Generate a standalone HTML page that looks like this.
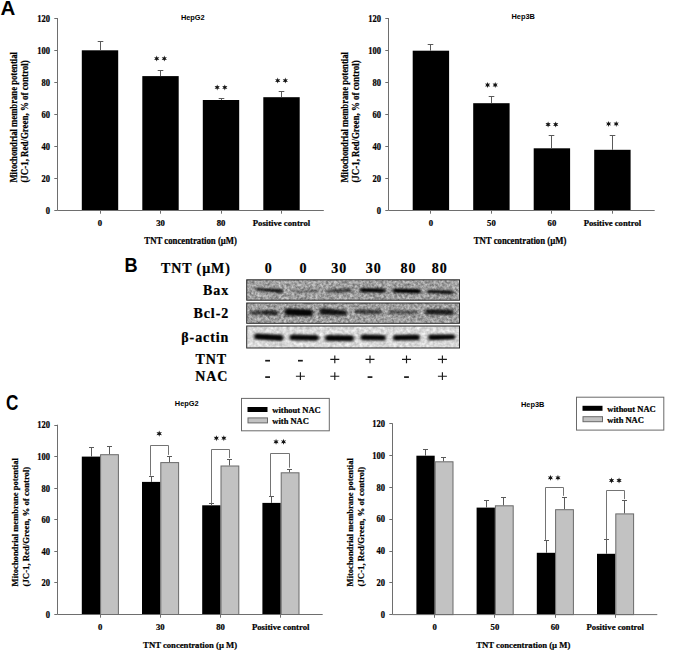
<!DOCTYPE html><html><head><meta charset="utf-8"><style>html,body{margin:0;padding:0;background:#fff;overflow:hidden;width:675px;height:653px;}svg{display:block}</style></head><body>
<svg width="675" height="653" viewBox="0 0 675 653">
<defs>
<filter id="noiseA" x="0" y="0" width="100%" height="100%" color-interpolation-filters="sRGB">
<feTurbulence type="fractalNoise" baseFrequency="0.38" numOctaves="2" seed="7" result="t"/>
<feColorMatrix in="t" type="matrix" values="0.6 0 0 0 0.33  0.6 0 0 0 0.33  0.6 0 0 0 0.33  0 0 0 0 1" result="n"/>
<feGaussianBlur in="n" stdDeviation="0.5" result="nb"/>
<feComposite in="nb" in2="SourceGraphic" operator="in"/>
</filter>
<filter id="noiseB" x="0" y="0" width="100%" height="100%" color-interpolation-filters="sRGB">
<feTurbulence type="fractalNoise" baseFrequency="0.3" numOctaves="2" seed="11" result="t"/>
<feColorMatrix in="t" type="matrix" values="0.35 0 0 0 0.68  0.35 0 0 0 0.68  0.35 0 0 0 0.68  0 0 0 0 1" result="n"/>
<feGaussianBlur in="n" stdDeviation="0.6" result="nb"/>
<feComposite in="nb" in2="SourceGraphic" operator="in"/>
</filter>
<filter id="blur1" x="-10%" y="-50%" width="120%" height="200%"><feGaussianBlur stdDeviation="1.4 1.3"/></filter>
</defs>
<rect width="675" height="653" fill="#fff"/>
<text x="0.50" y="15.30" font-size="20.5" text-anchor="start" font-family="Liberation Sans, sans-serif" font-weight="bold" >A</text>
<text transform="translate(124.40 272.20) scale(0.9 1)" font-size="20.2" text-anchor="start" font-family="Liberation Sans, sans-serif" font-weight="bold" >B</text>
<text transform="translate(6.00 409.60) scale(0.8 1)" font-size="21.5" text-anchor="start" font-family="Liberation Sans, sans-serif" font-weight="bold" >C</text>
<rect x="81.80" y="50.30" width="36.4" height="160.20" fill="#000"/><path d="M100.50 50.30V41.50M97.70 41.50H103.30" stroke="#5a5a5a" stroke-width="1" fill="none"/><rect x="142.30" y="76.10" width="36.4" height="134.40" fill="#000"/><path d="M160.50 76.10V70.50M157.70 70.50H163.30" stroke="#5a5a5a" stroke-width="1" fill="none"/><polygon points="156.70,55.60 157.36,57.46 159.30,57.10 158.02,58.60 159.30,60.10 157.36,59.74 156.70,61.60 156.04,59.74 154.10,60.10 155.38,58.60 154.10,57.10 156.04,57.46" fill="#141414"/><polygon points="164.30,55.60 164.96,57.46 166.90,57.10 165.62,58.60 166.90,60.10 164.96,59.74 164.30,61.60 163.64,59.74 161.70,60.10 162.98,58.60 161.70,57.10 163.64,57.46" fill="#141414"/><rect x="202.80" y="100.00" width="36.4" height="110.50" fill="#000"/><path d="M221.50 100.00V98.50M218.70 98.50H224.30" stroke="#5a5a5a" stroke-width="1" fill="none"/><polygon points="217.20,84.40 217.86,86.26 219.80,85.90 218.52,87.40 219.80,88.90 217.86,88.54 217.20,90.40 216.54,88.54 214.60,88.90 215.88,87.40 214.60,85.90 216.54,86.26" fill="#141414"/><polygon points="224.80,84.40 225.46,86.26 227.40,85.90 226.12,87.40 227.40,88.90 225.46,88.54 224.80,90.40 224.14,88.54 222.20,88.90 223.48,87.40 222.20,85.90 224.14,86.26" fill="#141414"/><rect x="263.30" y="97.20" width="36.4" height="113.30" fill="#000"/><path d="M281.50 97.20V91.50M278.70 91.50H284.30" stroke="#5a5a5a" stroke-width="1" fill="none"/><polygon points="277.70,77.60 278.36,79.46 280.30,79.10 279.02,80.60 280.30,82.10 278.36,81.74 277.70,83.60 277.04,81.74 275.10,82.10 276.38,80.60 275.10,79.10 277.04,79.46" fill="#141414"/><polygon points="285.30,77.60 285.96,79.46 287.90,79.10 286.62,80.60 287.90,82.10 285.96,81.74 285.30,83.60 284.64,81.74 282.70,82.10 283.98,80.60 282.70,79.10 284.64,79.46" fill="#141414"/><path d="M57.50 18.00V210.50H323.80" stroke="#6e6e6e" stroke-width="1" fill="none"/><path d="M54.30 210.50H57.50" stroke="#6e6e6e" stroke-width="1"/><text transform="translate(50.10 213.70) scale(0.92 1)" font-size="9.3" text-anchor="end" font-family="Liberation Serif, serif" font-weight="bold" stroke="#000" stroke-width="0.22" >0</text><path d="M54.30 178.50H57.50" stroke="#6e6e6e" stroke-width="1"/><text transform="translate(50.10 181.70) scale(0.92 1)" font-size="9.3" text-anchor="end" font-family="Liberation Serif, serif" font-weight="bold" stroke="#000" stroke-width="0.22" >20</text><path d="M54.30 146.50H57.50" stroke="#6e6e6e" stroke-width="1"/><text transform="translate(50.10 149.70) scale(0.92 1)" font-size="9.3" text-anchor="end" font-family="Liberation Serif, serif" font-weight="bold" stroke="#000" stroke-width="0.22" >40</text><path d="M54.30 114.50H57.50" stroke="#6e6e6e" stroke-width="1"/><text transform="translate(50.10 117.70) scale(0.92 1)" font-size="9.3" text-anchor="end" font-family="Liberation Serif, serif" font-weight="bold" stroke="#000" stroke-width="0.22" >60</text><path d="M54.30 82.50H57.50" stroke="#6e6e6e" stroke-width="1"/><text transform="translate(50.10 85.70) scale(0.92 1)" font-size="9.3" text-anchor="end" font-family="Liberation Serif, serif" font-weight="bold" stroke="#000" stroke-width="0.22" >80</text><path d="M54.30 50.50H57.50" stroke="#6e6e6e" stroke-width="1"/><text transform="translate(50.10 53.70) scale(0.92 1)" font-size="9.3" text-anchor="end" font-family="Liberation Serif, serif" font-weight="bold" stroke="#000" stroke-width="0.22" >100</text><path d="M54.30 18.50H57.50" stroke="#6e6e6e" stroke-width="1"/><text transform="translate(50.10 21.70) scale(0.92 1)" font-size="9.3" text-anchor="end" font-family="Liberation Serif, serif" font-weight="bold" stroke="#000" stroke-width="0.22" >120</text><path d="M100.50 210.50V213.70" stroke="#6e6e6e" stroke-width="1"/><text x="100.00" y="225.60" font-size="8.7" text-anchor="middle" font-family="Liberation Serif, serif" font-weight="bold" stroke="#000" stroke-width="0.22" >0</text><path d="M160.50 210.50V213.70" stroke="#6e6e6e" stroke-width="1"/><text x="160.50" y="225.60" font-size="8.7" text-anchor="middle" font-family="Liberation Serif, serif" font-weight="bold" stroke="#000" stroke-width="0.22" >30</text><path d="M221.50 210.50V213.70" stroke="#6e6e6e" stroke-width="1"/><text x="221.00" y="225.60" font-size="8.7" text-anchor="middle" font-family="Liberation Serif, serif" font-weight="bold" stroke="#000" stroke-width="0.22" >80</text><path d="M281.50 210.50V213.70" stroke="#6e6e6e" stroke-width="1"/><text x="281.50" y="225.60" font-size="8.7" text-anchor="middle" font-family="Liberation Serif, serif" font-weight="bold" stroke="#000" stroke-width="0.22" >Positive control</text><text transform="translate(190.65 243.60) scale(0.94 1)" font-size="9.3" text-anchor="middle" font-family="Liberation Serif, serif" font-weight="bold" stroke="#000" stroke-width="0.22" >TNT concentration (&#181;M)</text><text transform="translate(17.30,182.60) rotate(-90) scale(0.905 1)" font-size="9.6" font-family="Liberation Serif, serif" font-weight="bold" stroke="#000" stroke-width="0.22">Mitochondrial membrane potential</text><text transform="translate(28.40,182.60) rotate(-90) scale(0.928 1)" font-size="9.6" font-family="Liberation Serif, serif" font-weight="bold" stroke="#000" stroke-width="0.22">(JC-1, Red/Green, % of control)</text><text transform="translate(180.90 19.60) scale(0.925 1)" font-size="8.0" text-anchor="start" font-family="Liberation Sans, sans-serif" font-weight="bold" >HepG2</text>
<rect x="412.70" y="50.70" width="36.4" height="159.80" fill="#000"/><path d="M430.50 50.70V44.50M427.70 44.50H433.30" stroke="#5a5a5a" stroke-width="1" fill="none"/><rect x="473.20" y="103.20" width="36.4" height="107.30" fill="#000"/><path d="M491.50 103.20V96.50M488.70 96.50H494.30" stroke="#5a5a5a" stroke-width="1" fill="none"/><polygon points="487.60,82.00 488.26,83.86 490.20,83.50 488.92,85.00 490.20,86.50 488.26,86.14 487.60,88.00 486.94,86.14 485.00,86.50 486.28,85.00 485.00,83.50 486.94,83.86" fill="#141414"/><polygon points="495.20,82.00 495.86,83.86 497.80,83.50 496.52,85.00 497.80,86.50 495.86,86.14 495.20,88.00 494.54,86.14 492.60,86.50 493.88,85.00 492.60,83.50 494.54,83.86" fill="#141414"/><rect x="533.70" y="148.30" width="36.4" height="62.20" fill="#000"/><path d="M551.50 148.30V135.50M548.70 135.50H554.30" stroke="#5a5a5a" stroke-width="1" fill="none"/><polygon points="548.10,121.50 548.76,123.36 550.70,123.00 549.42,124.50 550.70,126.00 548.76,125.64 548.10,127.50 547.44,125.64 545.50,126.00 546.78,124.50 545.50,123.00 547.44,123.36" fill="#141414"/><polygon points="555.70,121.50 556.36,123.36 558.30,123.00 557.02,124.50 558.30,126.00 556.36,125.64 555.70,127.50 555.04,125.64 553.10,126.00 554.38,124.50 553.10,123.00 555.04,123.36" fill="#141414"/><rect x="594.20" y="149.80" width="36.4" height="60.70" fill="#000"/><path d="M612.50 149.80V135.50M609.70 135.50H615.30" stroke="#5a5a5a" stroke-width="1" fill="none"/><polygon points="608.60,120.90 609.26,122.76 611.20,122.40 609.92,123.90 611.20,125.40 609.26,125.04 608.60,126.90 607.94,125.04 606.00,125.40 607.28,123.90 606.00,122.40 607.94,122.76" fill="#141414"/><polygon points="616.20,120.90 616.86,122.76 618.80,122.40 617.52,123.90 618.80,125.40 616.86,125.04 616.20,126.90 615.54,125.04 613.60,125.40 614.88,123.90 613.60,122.40 615.54,122.76" fill="#141414"/><path d="M388.50 18.00V210.50H654.70" stroke="#6e6e6e" stroke-width="1" fill="none"/><path d="M385.30 210.50H388.50" stroke="#6e6e6e" stroke-width="1"/><text transform="translate(381.10 213.70) scale(0.92 1)" font-size="9.3" text-anchor="end" font-family="Liberation Serif, serif" font-weight="bold" stroke="#000" stroke-width="0.22" >0</text><path d="M385.30 178.50H388.50" stroke="#6e6e6e" stroke-width="1"/><text transform="translate(381.10 181.70) scale(0.92 1)" font-size="9.3" text-anchor="end" font-family="Liberation Serif, serif" font-weight="bold" stroke="#000" stroke-width="0.22" >20</text><path d="M385.30 146.50H388.50" stroke="#6e6e6e" stroke-width="1"/><text transform="translate(381.10 149.70) scale(0.92 1)" font-size="9.3" text-anchor="end" font-family="Liberation Serif, serif" font-weight="bold" stroke="#000" stroke-width="0.22" >40</text><path d="M385.30 114.50H388.50" stroke="#6e6e6e" stroke-width="1"/><text transform="translate(381.10 117.70) scale(0.92 1)" font-size="9.3" text-anchor="end" font-family="Liberation Serif, serif" font-weight="bold" stroke="#000" stroke-width="0.22" >60</text><path d="M385.30 82.50H388.50" stroke="#6e6e6e" stroke-width="1"/><text transform="translate(381.10 85.70) scale(0.92 1)" font-size="9.3" text-anchor="end" font-family="Liberation Serif, serif" font-weight="bold" stroke="#000" stroke-width="0.22" >80</text><path d="M385.30 50.50H388.50" stroke="#6e6e6e" stroke-width="1"/><text transform="translate(381.10 53.70) scale(0.92 1)" font-size="9.3" text-anchor="end" font-family="Liberation Serif, serif" font-weight="bold" stroke="#000" stroke-width="0.22" >100</text><path d="M385.30 18.50H388.50" stroke="#6e6e6e" stroke-width="1"/><text transform="translate(381.10 21.70) scale(0.92 1)" font-size="9.3" text-anchor="end" font-family="Liberation Serif, serif" font-weight="bold" stroke="#000" stroke-width="0.22" >120</text><path d="M430.50 210.50V213.70" stroke="#6e6e6e" stroke-width="1"/><text x="430.90" y="225.60" font-size="8.7" text-anchor="middle" font-family="Liberation Serif, serif" font-weight="bold" stroke="#000" stroke-width="0.22" >0</text><path d="M491.50 210.50V213.70" stroke="#6e6e6e" stroke-width="1"/><text x="491.40" y="225.60" font-size="8.7" text-anchor="middle" font-family="Liberation Serif, serif" font-weight="bold" stroke="#000" stroke-width="0.22" >50</text><path d="M551.50 210.50V213.70" stroke="#6e6e6e" stroke-width="1"/><text x="551.90" y="225.60" font-size="8.7" text-anchor="middle" font-family="Liberation Serif, serif" font-weight="bold" stroke="#000" stroke-width="0.22" >60</text><path d="M612.50 210.50V213.70" stroke="#6e6e6e" stroke-width="1"/><text x="612.40" y="225.60" font-size="8.7" text-anchor="middle" font-family="Liberation Serif, serif" font-weight="bold" stroke="#000" stroke-width="0.22" >Positive control</text><text transform="translate(520.00 243.60) scale(0.94 1)" font-size="9.3" text-anchor="middle" font-family="Liberation Serif, serif" font-weight="bold" stroke="#000" stroke-width="0.22" >TNT concentration (&#181;M)</text><text transform="translate(348.20,182.60) rotate(-90) scale(0.905 1)" font-size="9.6" font-family="Liberation Serif, serif" font-weight="bold" stroke="#000" stroke-width="0.22">Mitochondrial membrane potential</text><text transform="translate(359.30,182.60) rotate(-90) scale(0.928 1)" font-size="9.6" font-family="Liberation Serif, serif" font-weight="bold" stroke="#000" stroke-width="0.22">(JC-1, Red/Green, % of control)</text><text transform="translate(511.50 19.00) scale(0.925 1)" font-size="8.0" text-anchor="start" font-family="Liberation Sans, sans-serif" font-weight="bold" >Hep3B</text>
<text x="230.80" y="273.20" font-size="14.0" text-anchor="end" font-family="Liberation Serif, serif" font-weight="bold" stroke="#000" stroke-width="0.22" letter-spacing="0.9" >TNT (&#181;M)</text>
<text x="268.75" y="273.10" font-size="14.0" text-anchor="middle" font-family="Liberation Serif, serif" font-weight="bold" stroke="#000" stroke-width="0.22" letter-spacing="0.9" >0</text>
<text x="303.45" y="273.10" font-size="14.0" text-anchor="middle" font-family="Liberation Serif, serif" font-weight="bold" stroke="#000" stroke-width="0.22" letter-spacing="0.9" >0</text>
<text x="339.25" y="273.10" font-size="14.0" text-anchor="middle" font-family="Liberation Serif, serif" font-weight="bold" stroke="#000" stroke-width="0.22" letter-spacing="0.9" >30</text>
<text x="373.65" y="273.10" font-size="14.0" text-anchor="middle" font-family="Liberation Serif, serif" font-weight="bold" stroke="#000" stroke-width="0.22" letter-spacing="0.9" >30</text>
<text x="408.45" y="273.10" font-size="14.0" text-anchor="middle" font-family="Liberation Serif, serif" font-weight="bold" stroke="#000" stroke-width="0.22" letter-spacing="0.9" >80</text>
<text x="439.75" y="273.10" font-size="14.0" text-anchor="middle" font-family="Liberation Serif, serif" font-weight="bold" stroke="#000" stroke-width="0.22" letter-spacing="0.9" >80</text>
<text x="229.10" y="294.50" font-size="14.0" text-anchor="end" font-family="Liberation Serif, serif" font-weight="bold" stroke="#000" stroke-width="0.22" letter-spacing="0.9" >Bax</text>
<text x="229.10" y="318.00" font-size="14.0" text-anchor="end" font-family="Liberation Serif, serif" font-weight="bold" stroke="#000" stroke-width="0.22" letter-spacing="0.9" >Bcl-2</text>
<text x="229.20" y="341.80" font-size="14.0" text-anchor="end" font-family="Liberation Serif, serif" font-weight="bold" stroke="#000" stroke-width="0.22" letter-spacing="0.9" >&#946;-actin</text>
<text x="226.90" y="363.80" font-size="14.0" text-anchor="end" font-family="Liberation Serif, serif" font-weight="bold" stroke="#000" stroke-width="0.22" letter-spacing="0.9" >TNT</text>
<text x="228.20" y="380.60" font-size="14.0" text-anchor="end" font-family="Liberation Serif, serif" font-weight="bold" stroke="#000" stroke-width="0.22" letter-spacing="0.9" >NAC</text>
<rect x="265.20" y="359.85" width="4.8" height="1.7" fill="#1a1a1a"/>
<rect x="265.20" y="376.25" width="4.8" height="1.7" fill="#1a1a1a"/>
<rect x="298.00" y="359.85" width="4.8" height="1.7" fill="#1a1a1a"/>
<path d="M295.90 376.20H304.90M300.40 372.30V380.10" stroke="#1a1a1a" stroke-width="1.15" fill="none"/>
<path d="M330.30 359.30H339.30M334.80 355.40V363.20" stroke="#1a1a1a" stroke-width="1.15" fill="none"/>
<path d="M330.30 376.20H339.30M334.80 372.30V380.10" stroke="#1a1a1a" stroke-width="1.15" fill="none"/>
<path d="M365.50 359.30H374.50M370.00 355.40V363.20" stroke="#1a1a1a" stroke-width="1.15" fill="none"/>
<rect x="367.60" y="376.25" width="4.8" height="1.7" fill="#1a1a1a"/>
<path d="M402.00 359.30H411.00M406.50 355.40V363.20" stroke="#1a1a1a" stroke-width="1.15" fill="none"/>
<rect x="404.10" y="376.25" width="4.8" height="1.7" fill="#1a1a1a"/>
<path d="M437.90 359.30H446.90M442.40 355.40V363.20" stroke="#1a1a1a" stroke-width="1.15" fill="none"/>
<path d="M437.90 376.20H446.90M442.40 372.30V380.10" stroke="#1a1a1a" stroke-width="1.15" fill="none"/>
<rect x="246.7" y="279.80" width="212.8" height="20.40" fill="#000" filter="url(#noiseA)"/>
<g filter="url(#blur1)">
<path d="M255.00 289.20Q255.00 287.90 258.00 287.90L280.00 289.00Q283.00 289.00 283.00 291.00Q283.00 293.00 280.00 293.00L258.00 290.50Q255.00 290.50 255.00 289.20Z" fill="#000" opacity="0.88"/>
<path d="M292.00 291.00Q292.00 289.90 295.00 289.90L315.50 290.00Q318.50 290.00 318.50 291.20Q318.50 292.40 315.50 292.40L295.00 292.10Q292.00 292.10 292.00 291.00Z" fill="#000" opacity="0.45"/>
<path d="M325.50 291.00Q325.50 289.80 328.50 289.80L349.00 288.60Q352.00 288.60 352.00 290.30Q352.00 292.00 349.00 292.00L328.50 292.20Q325.50 292.20 325.50 291.00Z" fill="#000" opacity="0.72"/>
<path d="M359.50 290.20Q359.50 288.10 362.50 288.10L382.50 288.40Q385.50 288.40 385.50 290.60Q385.50 292.80 382.50 292.80L362.50 292.30Q359.50 292.30 359.50 290.20Z" fill="#000" opacity="0.98"/>
<path d="M392.50 290.60Q392.50 288.40 395.50 288.40L418.00 288.90Q421.00 288.90 421.00 291.20Q421.00 293.50 418.00 293.50L395.50 292.80Q392.50 292.80 392.50 290.60Z" fill="#000" opacity="1.0"/>
<path d="M426.50 291.40Q426.50 289.70 429.50 289.70L450.50 290.60Q453.50 290.60 453.50 292.40Q453.50 294.20 450.50 294.20L429.50 293.10Q426.50 293.10 426.50 291.40Z" fill="#000" opacity="0.92"/>
</g>
<rect x="246.7" y="279.80" width="212.8" height="20.40" fill="none" stroke="#2a2a2a" stroke-width="1"/>
<rect x="246.7" y="303.00" width="212.8" height="20.30" fill="#000" filter="url(#noiseA)"/>
<g filter="url(#blur1)">
<path d="M250.00 312.60Q250.00 310.50 253.00 310.50L262.00 310.50Q265.00 310.50 265.00 312.60Q265.00 314.70 262.00 314.70L253.00 314.70Q250.00 314.70 250.00 312.60Z" fill="#000" opacity="0.62"/>
<path d="M263.00 312.60Q263.00 310.10 266.00 310.10L275.50 310.20Q278.50 310.20 278.50 312.80Q278.50 315.40 275.50 315.40L266.00 315.10Q263.00 315.10 263.00 312.60Z" fill="#000" opacity="0.75"/>
<path d="M284.50 312.00Q284.50 308.60 287.50 308.60L310.00 309.40Q313.00 309.40 313.00 312.80Q313.00 316.20 310.00 316.20L287.50 315.40Q284.50 315.40 284.50 312.00Z" fill="#000" opacity="0.97"/>
<path d="M319.50 311.40Q319.50 308.10 322.50 308.10L344.00 310.20Q347.00 310.20 347.00 312.80Q347.00 315.40 344.00 315.40L322.50 314.70Q319.50 314.70 319.50 311.40Z" fill="#000" opacity="0.88"/>
<path d="M354.50 311.60Q354.50 309.30 357.50 309.30L379.00 309.70Q382.00 309.70 382.00 312.00Q382.00 314.30 379.00 314.30L357.50 313.90Q354.50 313.90 354.50 311.60Z" fill="#000" opacity="0.62"/>
<path d="M388.50 312.00Q388.50 310.00 391.50 310.00L414.50 310.40Q417.50 310.40 417.50 312.40Q417.50 314.40 414.50 314.40L391.50 314.00Q388.50 314.00 388.50 312.00Z" fill="#000" opacity="0.5"/>
<path d="M425.00 311.80Q425.00 309.00 428.00 309.00L451.00 309.50Q454.00 309.50 454.00 312.20Q454.00 314.90 451.00 314.90L428.00 314.60Q425.00 314.60 425.00 311.80Z" fill="#000" opacity="0.82"/>
</g>
<rect x="246.7" y="303.00" width="212.8" height="20.30" fill="none" stroke="#2a2a2a" stroke-width="1"/>
<rect x="246.7" y="326.00" width="212.8" height="22.00" fill="#000" filter="url(#noiseB)"/>
<g filter="url(#blur1)">
<path d="M254.00 336.60Q254.00 333.60 257.00 333.60L280.50 334.70Q283.50 334.70 283.50 337.80Q283.50 340.90 280.50 340.90L257.00 339.60Q254.00 339.60 254.00 336.60Z" fill="#000" opacity="0.97"/>
<path d="M289.50 337.40Q289.50 334.50 292.50 334.50L316.00 334.90Q319.00 334.90 319.00 337.80Q319.00 340.70 316.00 340.70L292.50 340.30Q289.50 340.30 289.50 337.40Z" fill="#000" opacity="0.97"/>
<path d="M325.00 338.00Q325.00 335.00 328.00 335.00L351.00 335.20Q354.00 335.20 354.00 338.20Q354.00 341.20 351.00 341.20L328.00 341.00Q325.00 341.00 325.00 338.00Z" fill="#000" opacity="0.97"/>
<path d="M360.50 337.40Q360.50 334.60 363.50 334.60L383.00 335.00Q386.00 335.00 386.00 337.80Q386.00 340.60 383.00 340.60L363.50 340.20Q360.50 340.20 360.50 337.40Z" fill="#000" opacity="0.97"/>
<path d="M393.00 337.80Q393.00 335.00 396.00 335.00L417.00 334.60Q420.00 334.60 420.00 337.40Q420.00 340.20 417.00 340.20L396.00 340.60Q393.00 340.60 393.00 337.80Z" fill="#000" opacity="0.97"/>
<path d="M428.00 337.40Q428.00 334.60 431.00 334.60L452.50 334.60Q455.50 334.60 455.50 337.00Q455.50 339.40 452.50 339.40L431.00 340.20Q428.00 340.20 428.00 337.40Z" fill="#000" opacity="0.97"/>
</g>
<rect x="246.7" y="326.00" width="212.8" height="22.00" fill="none" stroke="#2a2a2a" stroke-width="1"/>
<rect x="81.80" y="456.60" width="18.3" height="157.90" fill="#000"/><rect x="100.60" y="454.70" width="17.8" height="159.80" fill="#c2c2c2" stroke="#6a6a6a" stroke-width="1"/><path d="M91.50 456.60V447.50M89.00 447.50H94.00" stroke="#5a5a5a" stroke-width="1" fill="none"/><path d="M109.50 454.20V446.50M107.00 446.50H112.00" stroke="#5a5a5a" stroke-width="1" fill="none"/><rect x="142.00" y="481.90" width="18.3" height="132.60" fill="#000"/><rect x="160.80" y="462.60" width="17.8" height="151.90" fill="#c2c2c2" stroke="#6a6a6a" stroke-width="1"/><path d="M151.50 481.90V476.50M149.00 476.50H154.00" stroke="#5a5a5a" stroke-width="1" fill="none"/><path d="M169.50 462.10V456.50M167.00 456.50H172.00" stroke="#5a5a5a" stroke-width="1" fill="none"/><path d="M150.50 475.70V445.50H168.50V454.90" stroke="#747474" stroke-width="1" fill="none"/><polygon points="159.20,430.40 159.90,432.38 161.97,432.00 160.61,433.60 161.97,435.20 159.90,434.82 159.20,436.80 158.50,434.82 156.43,435.20 157.79,433.60 156.43,432.00 158.50,432.38" fill="#141414"/><rect x="202.20" y="505.30" width="18.3" height="109.20" fill="#000"/><rect x="221.00" y="466.00" width="17.8" height="148.50" fill="#c2c2c2" stroke="#6a6a6a" stroke-width="1"/><path d="M211.50 505.30V503.50M209.00 503.50H214.00" stroke="#5a5a5a" stroke-width="1" fill="none"/><path d="M229.50 465.50V459.50M227.00 459.50H232.00" stroke="#5a5a5a" stroke-width="1" fill="none"/><path d="M211.50 503.40V449.50H229.50V458.00" stroke="#747474" stroke-width="1" fill="none"/><polygon points="216.35,435.20 217.01,437.06 218.95,436.70 217.67,438.20 218.95,439.70 217.01,439.34 216.35,441.20 215.69,439.34 213.75,439.70 215.03,438.20 213.75,436.70 215.69,437.06" fill="#141414"/><polygon points="223.85,435.20 224.51,437.06 226.45,436.70 225.17,438.20 226.45,439.70 224.51,439.34 223.85,441.20 223.19,439.34 221.25,439.70 222.53,438.20 221.25,436.70 223.19,437.06" fill="#141414"/><rect x="262.40" y="502.90" width="18.3" height="111.60" fill="#000"/><rect x="281.20" y="472.80" width="17.8" height="141.70" fill="#c2c2c2" stroke="#6a6a6a" stroke-width="1"/><path d="M271.50 502.90V496.50M269.00 496.50H274.00" stroke="#5a5a5a" stroke-width="1" fill="none"/><path d="M289.50 472.30V469.50M287.00 469.50H292.00" stroke="#5a5a5a" stroke-width="1" fill="none"/><path d="M270.50 496.30V453.50H289.50V467.70" stroke="#747474" stroke-width="1" fill="none"/><polygon points="276.05,438.80 276.71,440.66 278.65,440.30 277.37,441.80 278.65,443.30 276.71,442.94 276.05,444.80 275.39,442.94 273.45,443.30 274.73,441.80 273.45,440.30 275.39,440.66" fill="#141414"/><polygon points="283.55,438.80 284.21,440.66 286.15,440.30 284.87,441.80 286.15,443.30 284.21,442.94 283.55,444.80 282.89,442.94 280.95,443.30 282.23,441.80 280.95,440.30 282.89,440.66" fill="#141414"/><path d="M57.50 424.70V614.50H322.70" stroke="#6e6e6e" stroke-width="1" fill="none"/><path d="M54.30 614.50H57.50" stroke="#6e6e6e" stroke-width="1"/><text transform="translate(50.10 617.70) scale(0.92 1)" font-size="9.3" text-anchor="end" font-family="Liberation Serif, serif" font-weight="bold" stroke="#000" stroke-width="0.22" >0</text><path d="M54.30 582.50H57.50" stroke="#6e6e6e" stroke-width="1"/><text transform="translate(50.10 586.15) scale(0.92 1)" font-size="9.3" text-anchor="end" font-family="Liberation Serif, serif" font-weight="bold" stroke="#000" stroke-width="0.22" >20</text><path d="M54.30 551.50H57.50" stroke="#6e6e6e" stroke-width="1"/><text transform="translate(50.10 554.60) scale(0.92 1)" font-size="9.3" text-anchor="end" font-family="Liberation Serif, serif" font-weight="bold" stroke="#000" stroke-width="0.22" >40</text><path d="M54.30 519.50H57.50" stroke="#6e6e6e" stroke-width="1"/><text transform="translate(50.10 523.05) scale(0.92 1)" font-size="9.3" text-anchor="end" font-family="Liberation Serif, serif" font-weight="bold" stroke="#000" stroke-width="0.22" >60</text><path d="M54.30 488.50H57.50" stroke="#6e6e6e" stroke-width="1"/><text transform="translate(50.10 491.50) scale(0.92 1)" font-size="9.3" text-anchor="end" font-family="Liberation Serif, serif" font-weight="bold" stroke="#000" stroke-width="0.22" >80</text><path d="M54.30 456.50H57.50" stroke="#6e6e6e" stroke-width="1"/><text transform="translate(50.10 459.95) scale(0.92 1)" font-size="9.3" text-anchor="end" font-family="Liberation Serif, serif" font-weight="bold" stroke="#000" stroke-width="0.22" >100</text><path d="M54.30 425.50H57.50" stroke="#6e6e6e" stroke-width="1"/><text transform="translate(50.10 428.40) scale(0.92 1)" font-size="9.3" text-anchor="end" font-family="Liberation Serif, serif" font-weight="bold" stroke="#000" stroke-width="0.22" >120</text><path d="M100.50 614.50V617.70" stroke="#6e6e6e" stroke-width="1"/><text x="100.10" y="630.30" font-size="8.7" text-anchor="middle" font-family="Liberation Serif, serif" font-weight="bold" stroke="#000" stroke-width="0.22" >0</text><path d="M160.50 614.50V617.70" stroke="#6e6e6e" stroke-width="1"/><text x="160.30" y="630.30" font-size="8.7" text-anchor="middle" font-family="Liberation Serif, serif" font-weight="bold" stroke="#000" stroke-width="0.22" >30</text><path d="M220.50 614.50V617.70" stroke="#6e6e6e" stroke-width="1"/><text x="220.50" y="630.30" font-size="8.7" text-anchor="middle" font-family="Liberation Serif, serif" font-weight="bold" stroke="#000" stroke-width="0.22" >80</text><path d="M280.50 614.50V617.70" stroke="#6e6e6e" stroke-width="1"/><text x="280.70" y="630.30" font-size="8.7" text-anchor="middle" font-family="Liberation Serif, serif" font-weight="bold" stroke="#000" stroke-width="0.22" >Positive control</text><text transform="translate(190.10 648.00) scale(0.985 1)" font-size="8.8" text-anchor="middle" font-family="Liberation Serif, serif" font-weight="bold" stroke="#000" stroke-width="0.22" >TNT concentration (&#181; M)</text><text transform="translate(18.10,586.40) rotate(-90) scale(0.927 1)" font-size="9.2" font-family="Liberation Serif, serif" font-weight="bold" stroke="#000" stroke-width="0.22">Mitochondrial membrane potential</text><text transform="translate(29.30,586.40) rotate(-90) scale(0.948 1)" font-size="9.2" font-family="Liberation Serif, serif" font-weight="bold" stroke="#000" stroke-width="0.22">(JC-1, Red/Green, % of control)</text><text transform="translate(174.80 405.70) scale(0.925 1)" font-size="8.0" text-anchor="start" font-family="Liberation Sans, sans-serif" font-weight="bold" >HepG2</text><rect x="241.50" y="398.40" width="87.80" height="32.40" fill="#fff" stroke="#6a6a6a" stroke-width="1"/><rect x="247.50" y="407.00" width="20" height="5" fill="#000"/><rect x="248.00" y="417.90" width="19.5" height="5" fill="#c2c2c2" stroke="#6a6a6a" stroke-width="1"/><text x="272.30" y="413.00" font-size="8.5" text-anchor="start" font-family="Liberation Serif, serif" font-weight="bold" stroke="#000" stroke-width="0.22" >without NAC</text><text x="272.30" y="423.70" font-size="8.5" text-anchor="start" font-family="Liberation Serif, serif" font-weight="bold" stroke="#000" stroke-width="0.22" >with NAC</text>
<rect x="416.40" y="455.70" width="18.3" height="158.90" fill="#000"/><rect x="435.20" y="461.80" width="17.8" height="152.80" fill="#c2c2c2" stroke="#6a6a6a" stroke-width="1"/><path d="M425.50 455.70V449.50M423.00 449.50H428.00" stroke="#5a5a5a" stroke-width="1" fill="none"/><path d="M443.50 461.30V457.50M441.00 457.50H446.00" stroke="#5a5a5a" stroke-width="1" fill="none"/><rect x="476.60" y="507.60" width="18.3" height="107.00" fill="#000"/><rect x="495.40" y="505.80" width="17.8" height="108.80" fill="#c2c2c2" stroke="#6a6a6a" stroke-width="1"/><path d="M486.50 507.60V500.50M484.00 500.50H489.00" stroke="#5a5a5a" stroke-width="1" fill="none"/><path d="M503.50 505.30V497.50M501.00 497.50H506.00" stroke="#5a5a5a" stroke-width="1" fill="none"/><rect x="536.80" y="552.80" width="18.3" height="61.80" fill="#000"/><rect x="555.60" y="509.70" width="17.8" height="104.90" fill="#c2c2c2" stroke="#6a6a6a" stroke-width="1"/><path d="M546.50 552.80V540.50M544.00 540.50H549.00" stroke="#5a5a5a" stroke-width="1" fill="none"/><path d="M564.50 509.20V497.50M562.00 497.50H567.00" stroke="#5a5a5a" stroke-width="1" fill="none"/><path d="M545.50 539.90V487.50H563.50V495.80" stroke="#747474" stroke-width="1" fill="none"/><polygon points="550.45,474.80 551.11,476.66 553.05,476.30 551.77,477.80 553.05,479.30 551.11,478.94 550.45,480.80 549.79,478.94 547.85,479.30 549.13,477.80 547.85,476.30 549.79,476.66" fill="#141414"/><polygon points="557.95,474.80 558.61,476.66 560.55,476.30 559.27,477.80 560.55,479.30 558.61,478.94 557.95,480.80 557.29,478.94 555.35,479.30 556.63,477.80 555.35,476.30 557.29,476.66" fill="#141414"/><rect x="597.00" y="553.80" width="18.3" height="60.80" fill="#000"/><rect x="615.80" y="513.90" width="17.8" height="100.70" fill="#c2c2c2" stroke="#6a6a6a" stroke-width="1"/><path d="M606.50 553.80V539.50M604.00 539.50H609.00" stroke="#5a5a5a" stroke-width="1" fill="none"/><path d="M624.50 513.40V500.50M622.00 500.50H627.00" stroke="#5a5a5a" stroke-width="1" fill="none"/><path d="M606.50 539.40V490.50H624.50V499.10" stroke="#747474" stroke-width="1" fill="none"/><polygon points="611.55,477.50 612.21,479.36 614.15,479.00 612.87,480.50 614.15,482.00 612.21,481.64 611.55,483.50 610.89,481.64 608.95,482.00 610.23,480.50 608.95,479.00 610.89,479.36" fill="#141414"/><polygon points="619.05,477.50 619.71,479.36 621.65,479.00 620.37,480.50 621.65,482.00 619.71,481.64 619.05,483.50 618.39,481.64 616.45,482.00 617.73,480.50 616.45,479.00 618.39,479.36" fill="#141414"/><path d="M392.50 423.30V614.60H657.30" stroke="#6e6e6e" stroke-width="1" fill="none"/><path d="M389.30 614.50H392.50" stroke="#6e6e6e" stroke-width="1"/><text transform="translate(385.10 617.80) scale(0.92 1)" font-size="9.3" text-anchor="end" font-family="Liberation Serif, serif" font-weight="bold" stroke="#000" stroke-width="0.22" >0</text><path d="M389.30 582.50H392.50" stroke="#6e6e6e" stroke-width="1"/><text transform="translate(385.10 586.00) scale(0.92 1)" font-size="9.3" text-anchor="end" font-family="Liberation Serif, serif" font-weight="bold" stroke="#000" stroke-width="0.22" >20</text><path d="M389.30 551.50H392.50" stroke="#6e6e6e" stroke-width="1"/><text transform="translate(385.10 554.20) scale(0.92 1)" font-size="9.3" text-anchor="end" font-family="Liberation Serif, serif" font-weight="bold" stroke="#000" stroke-width="0.22" >40</text><path d="M389.30 519.50H392.50" stroke="#6e6e6e" stroke-width="1"/><text transform="translate(385.10 522.40) scale(0.92 1)" font-size="9.3" text-anchor="end" font-family="Liberation Serif, serif" font-weight="bold" stroke="#000" stroke-width="0.22" >60</text><path d="M389.30 487.50H392.50" stroke="#6e6e6e" stroke-width="1"/><text transform="translate(385.10 490.60) scale(0.92 1)" font-size="9.3" text-anchor="end" font-family="Liberation Serif, serif" font-weight="bold" stroke="#000" stroke-width="0.22" >80</text><path d="M389.30 455.50H392.50" stroke="#6e6e6e" stroke-width="1"/><text transform="translate(385.10 458.80) scale(0.92 1)" font-size="9.3" text-anchor="end" font-family="Liberation Serif, serif" font-weight="bold" stroke="#000" stroke-width="0.22" >100</text><path d="M389.30 423.50H392.50" stroke="#6e6e6e" stroke-width="1"/><text transform="translate(385.10 427.00) scale(0.92 1)" font-size="9.3" text-anchor="end" font-family="Liberation Serif, serif" font-weight="bold" stroke="#000" stroke-width="0.22" >120</text><path d="M434.50 614.60V617.80" stroke="#6e6e6e" stroke-width="1"/><text x="434.70" y="630.30" font-size="8.7" text-anchor="middle" font-family="Liberation Serif, serif" font-weight="bold" stroke="#000" stroke-width="0.22" >0</text><path d="M494.50 614.60V617.80" stroke="#6e6e6e" stroke-width="1"/><text x="494.90" y="630.30" font-size="8.7" text-anchor="middle" font-family="Liberation Serif, serif" font-weight="bold" stroke="#000" stroke-width="0.22" >50</text><path d="M555.50 614.60V617.80" stroke="#6e6e6e" stroke-width="1"/><text x="555.10" y="630.30" font-size="8.7" text-anchor="middle" font-family="Liberation Serif, serif" font-weight="bold" stroke="#000" stroke-width="0.22" >60</text><path d="M615.50 614.60V617.80" stroke="#6e6e6e" stroke-width="1"/><text x="615.30" y="630.30" font-size="8.7" text-anchor="middle" font-family="Liberation Serif, serif" font-weight="bold" stroke="#000" stroke-width="0.22" >Positive control</text><text transform="translate(523.30 648.00) scale(0.985 1)" font-size="8.8" text-anchor="middle" font-family="Liberation Serif, serif" font-weight="bold" stroke="#000" stroke-width="0.22" >TNT concentration (&#181; M)</text><text transform="translate(352.70,586.40) rotate(-90) scale(0.927 1)" font-size="9.2" font-family="Liberation Serif, serif" font-weight="bold" stroke="#000" stroke-width="0.22">Mitochondrial membrane potential</text><text transform="translate(363.90,586.40) rotate(-90) scale(0.948 1)" font-size="9.2" font-family="Liberation Serif, serif" font-weight="bold" stroke="#000" stroke-width="0.22">(JC-1, Red/Green, % of control)</text><text transform="translate(521.00 406.60) scale(0.925 1)" font-size="8.0" text-anchor="start" font-family="Liberation Sans, sans-serif" font-weight="bold" >Hep3B</text><rect x="576.50" y="397.20" width="87.30" height="32.90" fill="#fff" stroke="#6a6a6a" stroke-width="1"/><rect x="582.50" y="405.80" width="20" height="5" fill="#000"/><rect x="583.00" y="416.70" width="19.5" height="5" fill="#c2c2c2" stroke="#6a6a6a" stroke-width="1"/><text x="607.30" y="411.80" font-size="8.5" text-anchor="start" font-family="Liberation Serif, serif" font-weight="bold" stroke="#000" stroke-width="0.22" >without NAC</text><text x="607.30" y="422.50" font-size="8.5" text-anchor="start" font-family="Liberation Serif, serif" font-weight="bold" stroke="#000" stroke-width="0.22" >with NAC</text>
</svg></body></html>
